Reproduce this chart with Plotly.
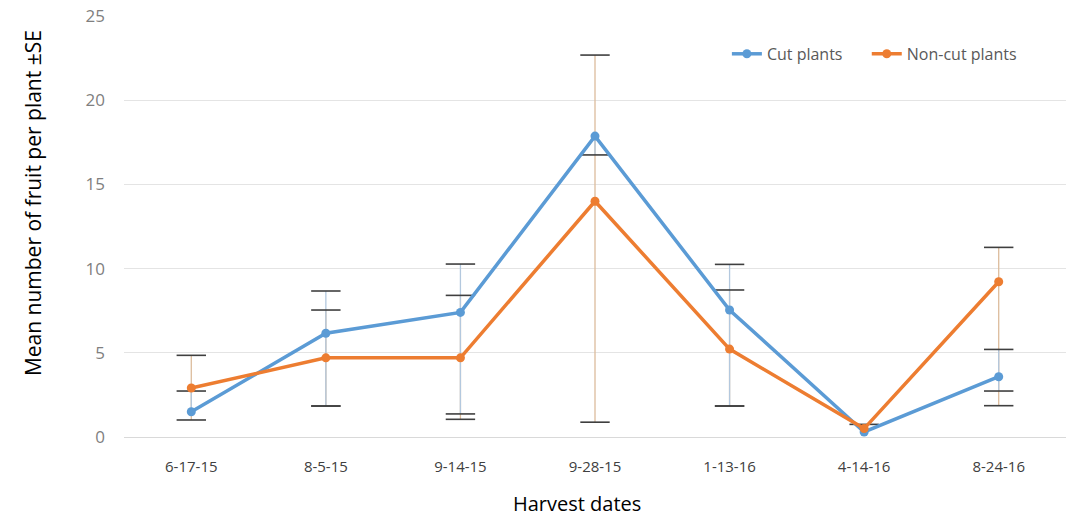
import plotly.graph_objects as go

# ---- data ----
dates = ["6-17-15", "8-5-15", "9-14-15", "9-28-15", "1-13-16", "4-14-16", "8-24-16"]

cut_mean = [1.5, 6.16, 7.4, 17.87, 7.54, 0.3, 3.58]
noncut_mean = [2.91, 4.7, 4.7, 14.0, 5.22, 0.5, 9.22]

# error bar extents (plus / minus) as drawn in the reference
cut_err_plus = [1.23, 2.51, 2.87, 0.0, 2.71, 0.0, 1.62]
cut_err_minus = [0.0, 4.32, 6.03, 1.12, 5.7, 0.0, 0.85]
noncut_err_plus = [1.94, 2.84, 3.71, 8.68, 3.51, 0.25, 2.04]
noncut_err_minus = [1.9, 2.86, 3.65, 13.12, 3.38, 0.0, 7.36]

y_ticks = [0, 5, 10, 15, 20, 25]

BLUE = "#5b9bd5"
ORANGE = "#ed7d31"
BLUE_ERR = "#b3c8de"
ORANGE_ERR = "#dcbc9c"
CAP = "#3f3f3f"

fig = go.Figure()


def err_trace(mean, plus, minus, color):
    return go.Scatter(
        x=dates, y=mean, mode="markers",
        marker=dict(size=1, opacity=0),
        error_y=dict(type="data", symmetric=False, array=plus, arrayminus=minus,
                     color=color, thickness=1.3, width=0),
        showlegend=False, hoverinfo="skip",
    )


def cap_points(mean, plus, minus):
    xs, ys = [], []
    for d, m, p, n in zip(dates, mean, plus, minus):
        if p > 0:
            xs.append(d)
            ys.append(m + p)
        if n > 0:
            xs.append(d)
            ys.append(m - n)
    return xs, ys


# error bar stems (under the lines)
fig.add_trace(err_trace(noncut_mean, noncut_err_plus, noncut_err_minus, ORANGE_ERR))
fig.add_trace(err_trace(cut_mean, cut_err_plus, cut_err_minus, BLUE_ERR))

# caps
for mean, plus, minus in [(noncut_mean, noncut_err_plus, noncut_err_minus),
                          (cut_mean, cut_err_plus, cut_err_minus)]:
    cx, cy = cap_points(mean, plus, minus)
    fig.add_trace(go.Scatter(
        x=cx, y=cy, mode="markers",
        marker=dict(symbol="line-ew", size=21, color=CAP,
                    line=dict(width=1.6, color=CAP)),
        showlegend=False, hoverinfo="skip",
    ))

# series lines
fig.add_trace(go.Scatter(
    x=dates, y=cut_mean, mode="lines+markers", name="Cut plants",
    line=dict(color=BLUE, width=3.5), marker=dict(color=BLUE, size=9),
    legend="legend",
))
fig.add_trace(go.Scatter(
    x=dates, y=noncut_mean, mode="lines+markers", name="Non-cut plants",
    line=dict(color=ORANGE, width=3.5), marker=dict(color=ORANGE, size=9),
    legend="legend2",
))

legend_style = dict(
    orientation="h", yanchor="middle", xanchor="left",
    font=dict(size=16, color="#595959"), bgcolor="rgba(0,0,0,0)",
    itemwidth=30,
)

fig.update_layout(
    width=1068, height=518,
    margin=dict(l=124, r=2, t=16, b=81),
    paper_bgcolor="white", plot_bgcolor="white",
    font=dict(family="Open Sans, Liberation Sans, sans-serif", color="#404040"),
    legend=dict(x=0.64, y=0.91, **legend_style),
    legend2=dict(x=0.7885, y=0.91, **legend_style),
    xaxis=dict(
        type="category", categoryorder="array", categoryarray=dates,
        range=[-0.5, 6.5],
        showgrid=False, showline=False, zeroline=False,
        tickfont=dict(size=15, color="#404040"),
        ticklabelstandoff=19,
    ),
    yaxis=dict(
        range=[0, 25], tickvals=y_ticks,
        showgrid=True, gridcolor="#e4e4e4", gridwidth=1,
        zeroline=True, zerolinecolor="#d9d9d9", zerolinewidth=1,
        showline=False,
        tickfont=dict(size=17, color="#7f7f7f"),
        ticklabelstandoff=18,
    ),
    annotations=[
        dict(text="Mean number of fruit per plant ±SE", textangle=-90,
             xref="paper", yref="paper", x=-0.0964, y=0.556,
             xanchor="center", yanchor="middle", showarrow=False,
             font=dict(size=21, color="#000000")),
        dict(text="Harvest dates",
             xref="paper", yref="paper", x=0.481, y=-0.159,
             xanchor="center", yanchor="middle", showarrow=False,
             font=dict(size=20, color="#000000")),
    ],
)

fig.write_html("out.html", config={"displayModeBar": False},
               post_script="document.body.style.margin='0';")
